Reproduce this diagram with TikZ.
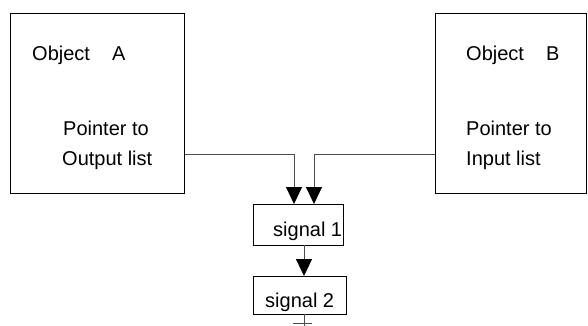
\documentclass[tikz,border=0pt]{standalone}
\usepackage{fontspec}
\setmainfont{Liberation Sans}
\usetikzlibrary{arrows.meta,calc}
\begin{document}
\begin{tikzpicture}[x=1pt,y=-1pt,
  box/.style={draw=black,line width=0.9pt,inner sep=0pt,anchor=north west},
  lbl/.style={anchor=base west,inner sep=0pt,font=\fontsize{20}{22}\selectfont},
  wire/.style={draw=black!70,line width=0.9pt},
  flow/.style={wire,-{Triangle[width=16pt,length=17pt,color=black]}}]
\useasboundingbox (0,0) rectangle (588,326);
% object boxes
\node[box,minimum width=174pt,minimum height=180pt] (objA) at (10,13) {};
\node[box,minimum width=151pt,minimum height=180pt] (objB) at (435,13) {};
% signal list entries
\node[box,minimum width=90pt,minimum height=41pt] (sig1) at (253,204) {};
\node[box,minimum width=93pt,minimum height=38pt] (sig2) at (253,276) {};
% texts
\node[lbl] (tA) at (32,61) {Object\hspace{22pt}A};
\node[lbl] (pA1) at (63,135) {Pointer to};
\node[lbl] (pA2) at (62,165) {Output list};
\node[lbl] (tB) at (466,61) {Object\hspace{22pt}B};
\node[lbl] (pB1) at (466,135) {Pointer to};
\node[lbl] (pB2) at (466,165) {Input list};
\node[lbl] (s1t) at (273,236) {signal 1};
\node[lbl] (s2t) at (265,307) {signal 2};
% connector end points
\coordinate (aout) at (objA.east |- 0,154);
\coordinate (bout) at (objB.west |- 0,154);
\coordinate (in1) at (294,204);
\coordinate (in2) at (314,204);
\coordinate (s1out) at (304,245);
\coordinate (s2in) at (304,276);
\coordinate (s2out) at (304,314);
\coordinate (tail) at (304,326);
% connectors
\draw[flow] (aout) -| (in1);
\draw[flow] (bout) -| (in2);
\draw[flow] (s1out) -- (s2in);
\draw[wire] (s2out) -- (tail);
\draw[wire] (293,323) -- (312,323);
\end{tikzpicture}
\end{document}
